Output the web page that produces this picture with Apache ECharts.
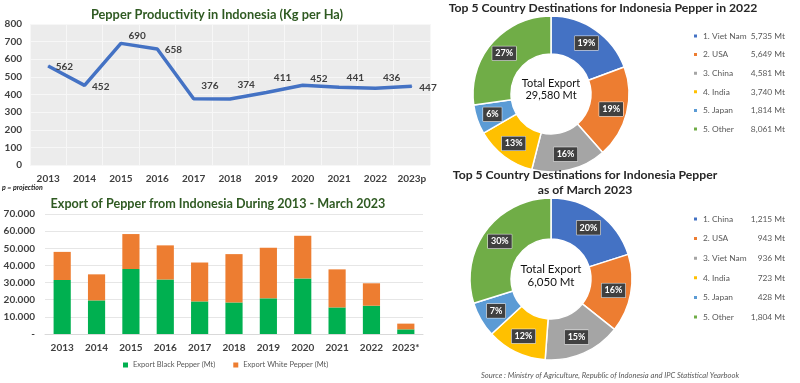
<!DOCTYPE html>
<html><head><meta charset="utf-8">
<script src="https://cdn.jsdelivr.net/npm/echarts@6/dist/echarts.min.js"></script>
<style>html,body{margin:0;padding:0;background:#fff}#c{width:800px;height:383px}</style>
</head><body><div id="c"></div>
<script>
// ---- data ----
const prodYears = ['2013','2014','2015','2016','2017','2018','2019','2020','2021','2022','2023p'];
const productivity = [562,452,690,658,376,374,411,452,441,436,447];
const exportYears = ['2013','2014','2015','2016','2017','2018','2019','2020','2021','2022','2023*'];
const blackPepper = [31500,19600,37900,31800,19000,18400,20800,32400,15500,16500,2700];
const whitePepper = [16400,15200,20400,19900,22700,28200,29500,24900,22200,13080,3350];
const dest2022Names = ['1. Viet Nam','2. USA','3. China','4. India','5. Japan','5. Other'];
const dest2022Values = [5735,5649,4581,3740,1814,8061];
const dest2022Pct = ['19%','19%','16%','13%','6%','27%'];
const dest2023Names = ['1. China','2. USA ','3. Viet Nam','4. India ','5. Japan ','5. Other '];
const dest2023Values = [1215,943,936,723,428,1804];
const dest2023Pct = ['20%','16%','15%','12%','7%','30%'];
const prodTicks = [0,100,200,300,400,500,600,700,800];

// ---- styling ----
const FONT = 'Lato, "Liberation Sans", sans-serif';
const pieColors = ['#4472C4','#ED7D31','#A5A5A5','#FFC000','#5B9BD5','#70AD47'];
const labelDy = [1,1,-8,1,-13,-14,-15,-7,-9,-10,2];
const fmtNum = v => v.toLocaleString('en-US');

const chart = echarts.init(document.getElementById('c'), null, {renderer:'canvas'});

function pieLegend(names, values, top, gap, idx){
  const map = {}; names.forEach((n,i)=>map[n]=values[i]);
  return {
    seriesIndex: idx, padding:0,
    data: names, orient:'vertical', left:692, top:top, itemGap:gap,
    icon:'rect', itemWidth:5, itemHeight:5, selectedMode:false,
    formatter: n => '{n|' + n.trim() + '}{v|' + fmtNum(map[n]) + ' Mt}',
    textStyle:{fontFamily:FONT, fontSize:8.4, color:'#595959',
      rich:{n:{width:49, fontFamily:FONT, fontSize:8.4, color:'#595959', lineHeight:11},
            v:{width:33, align:'right', fontFamily:FONT, fontSize:8.4, color:'#595959', lineHeight:11}}}
  };
}

function pieSeries(names, values, pct, center, radius){
  return {
    type:'pie', center:center, radius:radius, startAngle:90, clockwise:true,
    avoidLabelOverlap:false, silent:true,
    itemStyle:{borderColor:'#fff', borderWidth:1.5},
    label:{show:true, position:'inside', formatter:p=>pct[p.dataIndex],
      backgroundColor:'#404040', color:'#fff', fontWeight:'bold', fontSize:9,
      fontFamily:FONT, padding:[3,3,2,3], borderColor:'#fff', borderWidth:0.5},
    labelLine:{show:false},
    data: names.map((n,i)=>({name:n, value:values[i], itemStyle:{color:pieColors[i]}}))
  };
}

chart.setOption({
  animation:false,
  textStyle:{fontFamily:FONT},
  title:[
    {text:'Pepper Productivity in Indonesia (Kg per Ha)', left:217, top:7, textAlign:'center', padding:0,
     textStyle:{fontFamily:FONT, fontSize:12.8, fontWeight:'bold', color:'#2f5a22', lineHeight:16}},
    {text:'Export of Pepper from Indonesia During 2013 - March 2023', left:218, top:196, textAlign:'center', padding:0,
     textStyle:{fontFamily:FONT, fontSize:12.6, fontWeight:'bold', color:'#2f5a22', lineHeight:16}},
    {text:'Top 5 Country Destinations for Indonesia Pepper in 2022', left:603, top:0, textAlign:'center', padding:0,
     textStyle:{fontFamily:FONT, fontSize:12.2, fontWeight:'bold', color:'#262626', lineHeight:16}},
    {text:'Top 5 Country Destinations for Indonesia Pepper\nas of March 2023', left:585, top:168, textAlign:'center', padding:0,
     textStyle:{fontFamily:FONT, fontSize:12.2, fontWeight:'bold', color:'#262626', lineHeight:15}},
    {text:'Total Export\n29,580 Mt', left:551, top:77, textAlign:'center', padding:0,
     textStyle:{fontFamily:FONT, fontSize:11, fontWeight:'normal', color:'#111', lineHeight:12.5}},
    {text:'Total Export\n6,050 Mt', left:551, top:263, textAlign:'center', padding:0,
     textStyle:{fontFamily:FONT, fontSize:11.5, fontWeight:'normal', color:'#111', lineHeight:13}}
  ],
  graphic:[
    {type:'text', left:2, top:184, style:{text:'p = projection', font:'italic bold 7px '+FONT, fill:'#222'}},
    {type:'text', left:481, top:372, style:{text:'Source : Ministry of Agriculture, Republic of Indonesia and IPC Statistical Yearbook', font:'italic 7.6px '+FONT, fill:'#595959'}}
  ],
  legend:[
    {seriesIndex:1, padding:0, data:['Export Black Pepper (Mt)','Export White Pepper (Mt)'], left:123, top:361,
     icon:'rect', itemWidth:5, itemHeight:5, itemGap:18, selectedMode:false,
     textStyle:{fontFamily:FONT, fontSize:7.5, color:'#595959'}},
    pieLegend(dest2022Names, dest2022Values, 32, 10.6, 3),
    pieLegend(dest2023Names, dest2023Values, 215, 11.6, 4)
  ],
  grid:[
    {left:30, right:370, top:24, bottom:218, show:true, backgroundColor:'#ececec', borderWidth:0, outerBoundsMode:'none', containLabel:false},
    {left:45, right:377, top:214, bottom:49, outerBoundsMode:'none', containLabel:false}
  ],
  xAxis:[
    {gridIndex:0, type:'category', data:prodYears, boundaryGap:true,
     axisLine:{show:false}, axisTick:{show:false},
     splitLine:{show:true, lineStyle:{color:'#f7f7f7', width:1}},
     axisLabel:{margin:9, fontFamily:FONT, fontSize:10, fontWeight:'bold', color:'#404040', interval:0}},
    {gridIndex:1, type:'category', data:exportYears,
     axisLine:{show:true, lineStyle:{color:'#d9d9d9'}}, axisTick:{show:false},
     axisLabel:{margin:9, fontFamily:FONT, fontSize:10, fontWeight:'bold', color:'#404040', interval:0}}
  ],
  yAxis:[
    {gridIndex:0, type:'value', min:prodTicks[0], max:prodTicks[prodTicks.length-1], interval:100,
     axisLine:{show:false}, axisTick:{show:false},
     splitLine:{lineStyle:{color:'#f7f7f7'}},
     axisLabel:{margin:8, fontFamily:FONT, fontSize:10, fontWeight:'bold', color:'#404040'}},
    {gridIndex:1, type:'value', min:0, max:70000, interval:10000,
     axisLine:{show:false}, axisTick:{show:false},
     splitLine:{lineStyle:{color:'#e6e6e6'}},
     axisLabel:{margin:10, fontFamily:FONT, fontSize:10, fontWeight:'bold', color:'#404040',
       formatter:v=> v===0 ? '-' : (v/1000)+'.000'}}
  ],
  series:[
    {type:'line', xAxisIndex:0, yAxisIndex:0, data:productivity.map((v,i)=>({value:v,
        label:{offset:[0,labelDy[i]]}})),
     symbol:'circle', symbolSize:1, showSymbol:true, itemStyle:{color:'#4472C4'},
     lineStyle:{color:'#4472C4', width:3.5}, silent:true,
     label:{show:true, position:'right', distance:7, fontFamily:FONT, fontSize:10, fontWeight:'bold', color:'#404040'}},
    {name:'Export Black Pepper (Mt)', type:'bar', stack:'exp', xAxisIndex:1, yAxisIndex:1,
     data:blackPepper, barWidth:'50%', itemStyle:{color:'#00B050'}, silent:true},
    {name:'Export White Pepper (Mt)', type:'bar', stack:'exp', xAxisIndex:1, yAxisIndex:1,
     data:whitePepper, barWidth:'50%', itemStyle:{color:'#ED7D31'}, silent:true},
    pieSeries(dest2022Names, dest2022Values, dest2022Pct, [551,94], [40,78]),
    pieSeries(dest2023Names, dest2023Values, dest2023Pct, [551,279], [40,81])
  ]
});
</script>
</body></html>
